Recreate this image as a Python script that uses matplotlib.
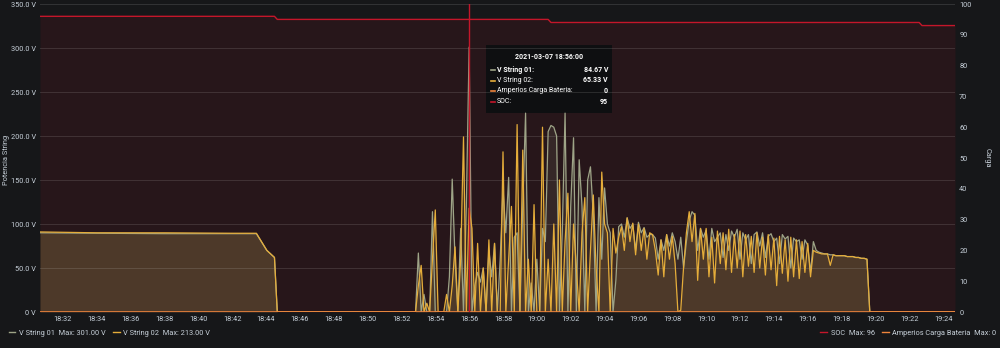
import matplotlib
matplotlib.use("Agg")
import matplotlib.pyplot as plt
import matplotlib.dates as mdates
from matplotlib.lines import Line2D
import pandas as pd

plt.rcParams['font.family'] = ['Roboto', 'DejaVu Sans']

DAY = "2021-03-07 "

# Flat morning segment (both strings nearly equal), then the dropout
flat_times = ["18:30:39", "18:34:00", "18:38:00", "18:42:00", "18:43:26",
              "18:44:03", "18:44:30", "18:44:40", "18:52:40"]
v01_flat = [90, 89.5, 89, 89, 89, 70, 62, 0, 0]
v02_flat = [91, 90, 90, 89.5, 89.5, 70, 62, 0, 0]

# Noisy segment, one reading every 10 s starting at 18:52:50
spiky_start = "18:52:50"
v01_spiky = [
    0, 67, 0, 20, 0, 0,
    114, 0, 0, 0, 0, 0,
    40, 151, 60, 0, 95, 0,
    120, 301, 0, 30, 45, 34,
    50, 0, 70, 40, 78, 0,
    60, 140, 90, 153, 0, 85,
    90, 0, 120, 226, 0, 33,
    0, 60, 0, 95, 80, 205,
    212, 210, 200, 0, 90, 226,
    0, 120, 198, 0, 173, 120,
    0, 150, 165, 110, 0, 130,
    60, 141, 100, 90, 0, 36,
    97, 100, 85, 107, 95, 100,
    70, 102, 90, 96, 85, 88,
    88, 84, 60, 82, 70, 88,
    75, 90, 80, 60, 85, 50,
    80, 104, 114, 110, 70, 95,
    85, 93, 60, 95, 80, 85,
    90, 62, 88, 70, 92, 85,
    94, 60, 90, 82, 88, 55,
    88, 91, 75, 90, 62, 86,
    89, 80, 84, 55, 88, 83,
    86, 50, 84, 80, 82, 60,
    82, 76, 45, 80, 70, 68,
    67, 66, 66, 65, 65, 64,
    64, 64, 64, 63, 63, 63,
    62, 62, 61, 61, 60, 0,
    0,
]
v02_spiky = [
    0, 30, 53, 0, 10, 0,
    60, 116, 0, 0, 0, 20,
    0, 30, 74, 0, 60, 199,
    0, 118, 95, 0, 78, 0,
    50, 0, 82, 0, 78, 0,
    0, 182, 0, 60, 120, 0,
    213, 0, 184, 0, 60, 0,
    122, 0, 0, 210, 0, 60,
    0, 100, 0, 150, 0, 80,
    135, 0, 100, 50, 0, 90,
    130, 0, 70, 133, 50, 0,
    159, 100, 90, 0, 95, 67,
    85, 97, 70, 107, 80, 101,
    65, 100, 70, 95, 60, 90,
    88, 70, 42, 82, 40, 88,
    60, 86, 55, 0, 2, 51,
    90, 114, 80, 112, 36, 95,
    60, 95, 40, 85, 33, 92,
    55, 90, 48, 94, 45, 88,
    50, 92, 40, 88, 52, 86,
    45, 90, 50, 85, 42, 88,
    48, 84, 30, 86, 44, 82,
    35, 85, 40, 82, 38, 80,
    45, 78, 40, 70, 68, 67,
    66, 66, 66, 53, 65, 64,
    64, 64, 64, 63, 63, 63,
    62, 62, 61, 61, 60, 0,
    0,
]
tail_times = ["19:20:00", "19:24:42"]
v_tail = [0, 0]

soc_times = ["18:30:39", "18:44:30", "18:44:40", "19:00:40", "19:00:50",
             "19:22:35", "19:22:45", "19:24:42"]
soc_vals = [96, 96, 95, 95, 94, 94, 93, 93]

amp_times = ["18:30:39", "19:24:42"]
amp_vals = [0, 0]

# tooltip content
tip_title = "2021-03-07 18:56:00"
tip_rows = [("V String 01:", "84.67 V", True), ("V String 02:", "65.33 V", False),
            ("Amperios Carga Bateria:", "0", False), ("SOC:", "95", False)]

# Colours
BG = "#161719"
C01 = "#9ea487"
C02 = "#e5ad3a"
CAMP = "#ef843c"
CSOC = "#c4162a"
TXT = "#c7d0d9"
FS = 5.3  # small grafana-like text

# Build the time series
t_flat = pd.to_datetime([DAY + s for s in flat_times])
t_spiky = pd.date_range(DAY + spiky_start, periods=len(v01_spiky), freq="10s")
t_tail = pd.to_datetime([DAY + s for s in tail_times])
t_all = t_flat.append(t_spiky).append(t_tail)
v01 = v01_flat + v01_spiky + v_tail
v02 = v02_flat + v02_spiky + v_tail
t_soc = pd.to_datetime([DAY + s for s in soc_times])
t_amp = pd.to_datetime([DAY + s for s in amp_times])

fig = plt.figure(figsize=(10, 3.48), dpi=100, facecolor=BG)
ax2 = fig.add_axes([0.040, 0.1034, 0.915, 0.8851])
ax = ax2.twinx()
# V strings on the left axis drawn above the SOC fill
ax.set_zorder(ax2.get_zorder() + 1)
ax.patch.set_visible(False)
ax2.set_facecolor(BG)

# SOC on the right axis
ax2.fill_between(t_soc, soc_vals, 0, color=CSOC, alpha=0.1, lw=0)
ax2.plot(t_soc, soc_vals, color=CSOC, lw=1)
ax2.set_ylim(0, 100)
ax2.yaxis.tick_right()
ax2.yaxis.set_label_position("right")
ax2.set_yticks(range(0, 101, 10))

# V strings on the left axis
ax.fill_between(t_all, v01, 0, color=C01, alpha=0.12, lw=0)
ax.fill_between(t_all, v02, 0, color=C02, alpha=0.14, lw=0)
ax.plot(t_all, v01, color=C01, lw=0.9)
ax.plot(t_all, v02, color=C02, lw=0.9)
ax.plot(t_amp, amp_vals, color=CAMP, lw=1.2)
ax.set_ylim(0, 350)
ax.yaxis.tick_left()
ax.set_yticks(range(0, 351, 50))
ax.set_yticklabels(["0 V"] + [f"{v:.1f} V" for v in range(50, 351, 50)])

x0 = pd.Timestamp(DAY + "18:30:39")
x1 = pd.Timestamp(DAY + "19:24:42")
ax.set_xlim(x0, x1)
ax2.set_xlim(x0, x1)
ax.xaxis.set_major_locator(mdates.MinuteLocator(byminute=range(0, 60, 2)))
ax.xaxis.set_major_formatter(mdates.DateFormatter("%H:%M"))

ax.grid(True, color="white", alpha=0.12, lw=0.7)
ax2.grid(False)

# crosshair at the hovered time
ax.axvline(pd.Timestamp(DAY + "18:56:00"), color=CSOC, lw=1)

for a in (ax, ax2):
    for s in a.spines.values():
        s.set_visible(False)
    a.tick_params(colors=TXT, labelsize=FS, length=0, pad=3)

# axis titles
fig.text(0.007, 0.54, "Potencia String", color=TXT, fontsize=FS, rotation=90,
         ha="center", va="center")
ax2.set_ylabel("Carga", color=TXT, fontsize=FS, rotation=270, labelpad=14)

# Legends at the bottom
left_handles = [Line2D([], [], color=C01, lw=1), Line2D([], [], color=C02, lw=1)]
left_labels = [f"V String 01  Max: {max(v01):.2f} V", f"V String 02  Max: {max(v02):.2f} V"]
fig.legend(left_handles, left_labels, loc="center left", bbox_to_anchor=(0.002, 0.043),
           ncol=2, frameon=False, fontsize=FS, labelcolor=TXT, handlelength=0.9,
           handletextpad=0.5, columnspacing=1.0)
right_handles = [Line2D([], [], color=CSOC, lw=1), Line2D([], [], color=CAMP, lw=1)]
right_labels = [f"SOC  Max: {max(soc_vals)}", f"Amperios Carga Bateria  Max: {max(amp_vals)}"]
fig.legend(right_handles, right_labels, loc="center right", bbox_to_anchor=(1.003, 0.043),
           ncol=2, frameon=False, fontsize=FS, labelcolor=TXT, handlelength=0.9,
           handletextpad=0.5, columnspacing=1.0)

# Tooltip box
tip = fig.add_axes([0.486, 1 - 113 / 348, 0.126, 68 / 348])
tip.set_facecolor("#0e0f11")
tip.set_xticks([])
tip.set_yticks([])
for s in tip.spines.values():
    s.set_visible(False)
tip.set_xlim(0, 126)
tip.set_ylim(68, 0)
tip.text(63, 12, tip_title, color="white", fontsize=5, fontweight="bold", ha="center", va="center")
row_colors = [C01, C02, CAMP, CSOC]
for k, (name, val, bold) in enumerate(tip_rows):
    y = 25 + k * 10.5
    tip.plot([5, 9], [y, y], color=row_colors[k], lw=1.2)
    w = "bold" if bold else "normal"
    tip.text(11, y, name, color="white", fontsize=5, fontweight=w, va="center")
    tip.text(122, y, val, color="white", fontsize=5, fontweight="bold", ha="right", va="center")

fig.savefig("out.png", dpi=100, facecolor=BG)
